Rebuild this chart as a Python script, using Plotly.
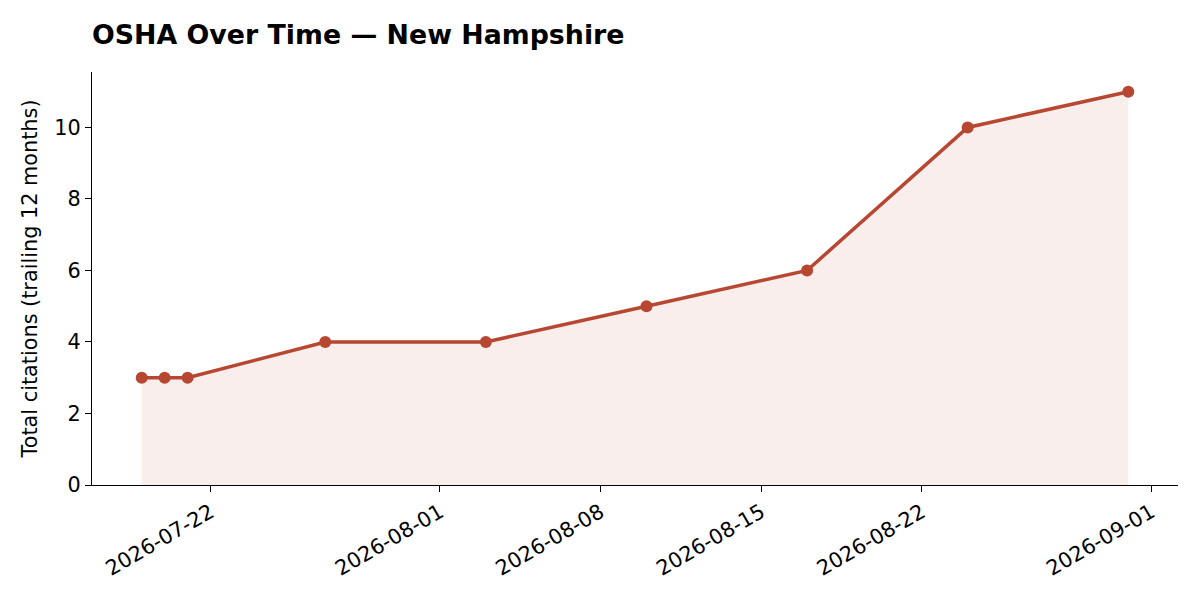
import plotly.graph_objects as go

# trailing-12-month citation counts for New Hampshire
dates = ['2026-07-19', '2026-07-20', '2026-07-21', '2026-07-27', '2026-08-03',
         '2026-08-10', '2026-08-17', '2026-08-24', '2026-08-31']
citations = [3, 3, 3, 4, 4, 5, 6, 10, 11]
tick_dates = ['2026-07-22', '2026-08-01', '2026-08-08', '2026-08-15', '2026-08-22', '2026-09-01']

line_col = '#b84731'
font = 'DejaVu Sans'

fig = go.Figure()
fig.add_trace(go.Scatter(x=dates, y=citations, mode='lines+markers',
                         line=dict(color=line_col, width=3.5),
                         marker=dict(size=12, color=line_col),
                         fill='tozeroy', fillcolor='rgba(184,71,49,0.09)',
                         showlegend=False))

# page has an 8px body margin, so offsets are shifted by 8
fig.update_layout(
    width=1200, height=600,
    plot_bgcolor='white', paper_bgcolor='white',
    margin=dict(l=84, r=30, t=64, b=123),
    font=dict(family=font, size=20.8, color='black'),
    title=dict(text='<b>OSHA Over Time — New Hampshire</b>', x=84 / 1200, xanchor='left',
               y=1 - 27 / 600, yanchor='middle', font=dict(size=26.8)),
)
fig.update_xaxes(range=['2026-07-16 20:00', '2026-09-02 04:00'],
                 tickvals=tick_dates, ticktext=tick_dates, tickangle=-30,
                 showgrid=False, zeroline=False, showline=True, linecolor='black', linewidth=1.3,
                 ticks='outside', ticklen=6, tickwidth=1.3, tickcolor='black')
fig.update_yaxes(range=[0, 11.55], tickvals=[0, 2, 4, 6, 8, 10],
                 title=dict(text='Total citations (trailing 12 months)', standoff=10,
                            font=dict(size=20.8)),
                 showgrid=False, zeroline=False, showline=True, linecolor='black', linewidth=1.3,
                 ticks='outside', ticklen=6, tickwidth=1.3, tickcolor='black')

fig.write_html('out.html')
